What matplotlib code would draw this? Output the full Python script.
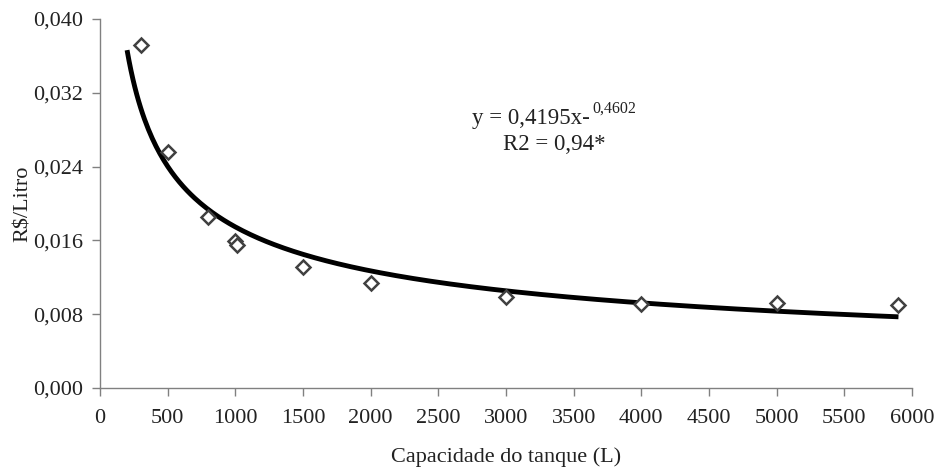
import numpy as np
import matplotlib
matplotlib.use("Agg")
import matplotlib.pyplot as plt
from matplotlib.ticker import FuncFormatter

# Observed data (capacity in L, cost in R$/L)
capacity = [300, 500, 800, 1000, 1010, 1500, 2000, 3000, 4000, 5000, 5900]
cost = [0.0372, 0.0256, 0.0185, 0.0159, 0.0155, 0.0131, 0.0114, 0.0099, 0.0091, 0.0092, 0.0090]

# Power trendline coefficients printed on the chart
coef_a = 0.4195
coef_b = -0.4602
trend_start, trend_end = 200, 5900

x_ticks = list(range(0, 6001, 500))
y_ticks = [0.000, 0.008, 0.016, 0.024, 0.032, 0.040]

plt.rcParams['font.family'] = ['Liberation Serif', 'DejaVu Serif']

fig = plt.figure(figsize=(9.36, 4.75), dpi=100)
ax = fig.add_axes([100 / 936, 1 - 388 / 475, 812 / 936, 369 / 475])

xs = np.linspace(trend_start, trend_end, 400)
ax.plot(xs, coef_a * xs ** coef_b, color='black', lw=3.5, solid_capstyle='butt', zorder=2)
ax.plot(capacity, cost, linestyle='none', marker='D', markersize=7.5,
        markerfacecolor='white', markeredgecolor='#404040', markeredgewidth=1.8, zorder=3)

ax.set_xlim(0, 6000)
ax.set_ylim(0, 0.040)
ax.set_xticks(x_ticks)
ax.set_yticks(y_ticks)
ax.yaxis.set_major_formatter(FuncFormatter(lambda v, p: f"{v:.3f}".replace('.', ',')))
ax.xaxis.set_major_formatter(FuncFormatter(lambda v, p: f"{int(v)}"))

for s in ['top', 'right']:
    ax.spines[s].set_visible(False)
for s in ['left', 'bottom']:
    ax.spines[s].set_color('#808080')
    ax.spines[s].set_linewidth(1.0)
ax.tick_params(axis='both', direction='out', length=6, width=1, color='#808080',
               labelcolor='#222222', labelsize=16)
ax.tick_params(axis='x', pad=9)
ax.tick_params(axis='y', pad=6)

ax.set_xlabel('Capacidade do tanque (L)', fontsize=16, color='#222222', labelpad=14)
ax.set_ylabel('R$/Litro', fontsize=16, color='#222222', labelpad=0)

ax.text(2751, 0.0292, 'y = 0,4195x-', fontsize=16.5, ha='left', va='center', color='#222222')
ax.text(3639, 0.0303, '0,4602', fontsize=11.5, ha='left', va='center', color='#222222')
ax.text(2981, 0.0264, 'R2 = 0,94*', fontsize=16.5, ha='left', va='center', color='#222222')

fig.savefig('out.png', dpi=100)
